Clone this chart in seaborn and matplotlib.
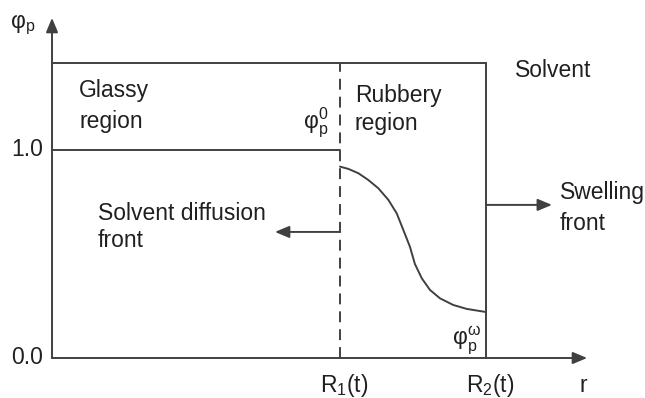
# Schematic of polymer swelling: glassy core, rubbery shell and the two moving fronts.
import numpy as np
import pandas as pd
import seaborn as sns
import matplotlib.pyplot as plt

# front positions (r in units of R1) and levels of phi_p
r1 = 1.0
r2 = 1.507
phi_glassy = 1.0
phi_top = 1.418

# phi_p profile in the rubbery region
curve_r = [1.000, 1.029, 1.064, 1.098, 1.133, 1.168, 1.197, 1.220, 1.243,
           1.260, 1.284, 1.3125, 1.347, 1.393, 1.440, 1.507]
curve_phi = [0.920, 0.909, 0.888, 0.856, 0.816, 0.760, 0.695, 0.615, 0.534,
             0.452, 0.383, 0.327, 0.287, 0.255, 0.236, 0.221]

y_ticks = [0.0, 1.0]
y_tick_labels = ['0.0', '1.0']

sns.set_style("white")
plt.rcParams['font.family'] = ['Liberation Sans', 'DejaVu Sans']

LINE = '#404040'
TEXT = '#202020'
LW = 1.4
FS = 16.5

fig = plt.figure(figsize=(6.45, 3.98), dpi=100)
ax = fig.add_axes([0, 0, 1, 1])
ax.set_xlim(-0.1806, 2.059)
ax.set_ylim(-0.1923, 1.721)
ax.axis('off')

arrow = dict(arrowstyle='-|>,head_length=0.43,head_width=0.18', mutation_scale=20,
             lw=LW, color=LINE, shrinkA=0, shrinkB=0)


def label(x, y, s, ha='left'):
    ax.text(x, y, s, ha=ha, va='baseline', fontsize=FS, color=TEXT)


# axes with arrow heads
ax.annotate('', xy=(0, 1.635), xytext=(0, 0), arrowprops=arrow)
ax.annotate('', xy=(1.858, 0), xytext=(0, 0), arrowprops=arrow)

# box outline
ax.plot([0, r2], [phi_top, phi_top], color=LINE, lw=LW)
ax.plot([r2, r2], [0, phi_top], color=LINE, lw=LW)
ax.plot([0, r1], [phi_glassy, phi_glassy], color=LINE, lw=LW)
ax.plot([r1, r1], [0, phi_top], color=LINE, lw=LW, dashes=(5.6, 3.6))

# concentration profile
df = pd.DataFrame({'r': curve_r, 'phi': curve_phi})
sns.lineplot(data=df, x='r', y='phi', sort=False, estimator=None,
             color=LINE, lw=LW, ax=ax)

# front motion arrows
ax.annotate('', xy=(0.774, 0.606), xytext=(r1, 0.606), arrowprops=arrow)
ax.annotate('', xy=(1.736, 0.736), xytext=(r2, 0.736), arrowprops=arrow)

# tick labels
for yv, lab in zip(y_ticks, y_tick_labels):
    ax.text(-0.031, yv, lab, ha='right', va='center', fontsize=FS, color=TEXT)

label(-0.146, 1.587, 'φ$_\\mathregular{p}$')
label(r1 + 0.015, -0.163, 'R$_\\mathregular{1}$(t)', ha='center')
label(r2 + 0.015, -0.163, 'R$_\\mathregular{2}$(t)', ha='center')
label(1.844, -0.163, 'r', ha='center')

# region labels
label(0.095, 1.255, 'Glassy')
label(0.095, 1.106, 'region')
label(1.052, 1.231, 'Rubbery')
label(1.052, 1.096, 'region')
label(1.608, 1.351, 'Solvent')
label(0.160, 0.663, 'Solvent diffusion')
label(0.160, 0.534, 'front')
label(1.764, 0.764, 'Swelling')
label(1.764, 0.615, 'front')

label(0.960, 1.106, 'φ$_\\mathregular{p}^\\mathregular{0}$', ha='right')
label(1.490, 0.0625, 'φ$_\\mathregular{p}^\\mathregular{ω}$', ha='right')

fig.savefig('out.png', dpi=100)
